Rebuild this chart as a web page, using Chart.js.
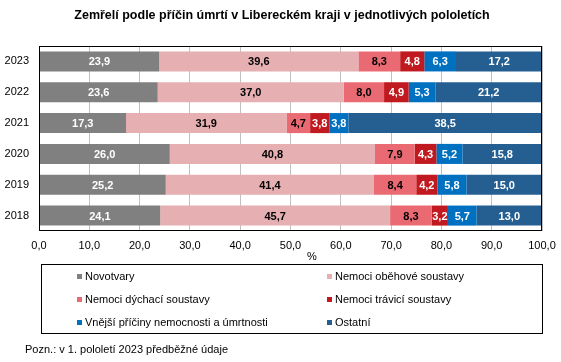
<!DOCTYPE html>
<html>
<head>
<meta charset="utf-8">
<script src="https://cdn.jsdelivr.net/npm/chart.js@4/dist/chart.umd.min.js"></script>
<style>
  html, body { margin: 0; padding: 0; background: #fff; }
  body { width: 561px; height: 362px; position: relative; overflow: hidden; font-family: "Liberation Sans", Arial, sans-serif; color: #000; }
  #wrap { position: absolute; left: 0; top: 0; width: 561px; height: 362px; }
  #title { position: absolute; top: 8px; left: 0; width: 564px; text-align: center; font-weight: bold; font-size: 12.5px; white-space: nowrap; }
  #pct { position: absolute; top: 250px; left: 306px; width: 12px; text-align: center; font-size: 11px; }
  #legend { position: absolute; left: 41px; top: 264px; width: 502px; height: 70px; border: 1px solid #000; box-sizing: border-box; }
  .li { position: absolute; font-size: 11px; white-space: nowrap; line-height: 13px; }
  .li span.m { position: absolute; left: -8px; top: 4px; width: 5px; height: 5px; }
  #note { position: absolute; left: 25px; top: 343px; font-size: 11px; white-space: nowrap; }
</style>
</head>
<body>
<div id="wrap"><canvas id="c" width="561" height="362"></canvas></div>
<div id="title">Zemřelí podle příčin úmrtí v Libereckém kraji v jednotlivých pololetích</div>
<div id="pct">%</div>
<div id="legend"></div>
<div id="note">Pozn.: v 1. pololetí 2023 předběžné údaje</div>
<script>
const categories = ['2023', '2022', '2021', '2020', '2019', '2018'];
const seriesNames = ['Novotvary', 'Nemoci oběhové soustavy', 'Nemoci dýchací soustavy', 'Nemoci trávicí soustavy', 'Vnější příčiny nemocnosti a úmrtnosti', 'Ostatní'];
const novotvary = [23.9, 23.6, 17.3, 26.0, 25.2, 24.1];
const obehove   = [39.6, 37.0, 31.9, 40.8, 41.4, 45.7];
const dychaci   = [8.3, 8.0, 4.7, 7.9, 8.4, 8.3];
const travici   = [4.8, 4.9, 3.8, 4.3, 4.2, 3.2];
const vnejsi    = [6.3, 5.3, 3.8, 5.2, 5.8, 5.7];
const ostatni   = [17.2, 21.2, 38.5, 15.8, 15.0, 13.0];
const xTicks = [0, 10, 20, 30, 40, 50, 60, 70, 80, 90, 100];

const colors = ['#808080', '#E6AFB2', '#E96A72', '#C0191F', '#0070C0', '#255F91'];
const labelColors = ['#fff', '#000', '#000', '#fff', '#fff', '#fff'];
const seriesValues = [novotvary, obehove, dychaci, travici, vnejsi, ostatni];

const fmt = v => v.toFixed(1).replace('.', ',');

const labelPlugin = {
  id: 'barLabels',
  afterDatasetsDraw(chart) {
    const ctx = chart.ctx;
    ctx.save();
    ctx.font = 'bold 11px "Liberation Sans", Arial, sans-serif';
    ctx.textAlign = 'center';
    ctx.textBaseline = 'middle';
    chart.data.datasets.forEach((ds, i) => {
      const meta = chart.getDatasetMeta(i);
      meta.data.forEach((el, j) => {
        const cx = (el.x + el.base) / 2;
        ctx.fillStyle = labelColors[i];
        ctx.fillText(fmt(ds.data[j]), cx, el.y + 1);
      });
    });
    ctx.restore();
  },
  afterDraw(chart) {
    const a = chart.chartArea;
    const ctx = chart.ctx;
    ctx.save();
    ctx.strokeStyle = '#000';
    ctx.lineWidth = 1;
    ctx.strokeRect(Math.round(a.left) + 0.5, Math.round(a.top) + 0.5, Math.round(a.right - a.left) - 1, Math.round(a.bottom - a.top) - 1);
    ctx.restore();
  }
};

const bgPlugin = {
  id: 'bg',
  beforeDraw(chart) {
    const ctx = chart.ctx;
    ctx.save();
    ctx.fillStyle = '#fff';
    ctx.fillRect(0, 0, chart.width, chart.height);
    ctx.restore();
  }
};

new Chart(document.getElementById('c'), {
  type: 'bar',
  data: {
    labels: categories,
    datasets: seriesNames.map((n, i) => ({
      label: n,
      data: seriesValues[i],
      backgroundColor: colors[i],
      borderWidth: 0,
      categoryPercentage: 0.65,
      barPercentage: 1
    }))
  },
  options: {
    indexAxis: 'y',
    responsive: false,
    animation: false,
    devicePixelRatio: 1,
    layout: { padding: { left: 0, right: 19, top: 46, bottom: 101 } },
    plugins: { legend: { display: false }, title: { display: false }, tooltip: { enabled: false } },
    scales: {
      x: {
        stacked: true,
        min: 0, max: 100,
        afterBuildTicks: s => { s.ticks = xTicks.map(v => ({ value: v })); },
        afterFit: s => { s.height = 30; s.paddingRight = 0; s.paddingLeft = 0; },
        grid: { color: '#C0C0C0', drawTicks: false, lineWidth: 1 },
        border: { display: false },
        ticks: { color: '#000', padding: 8, font: { size: 11, family: '"Liberation Sans", Arial, sans-serif' }, callback: v => fmt(v), maxRotation: 0, autoSkip: false }
      },
      y: {
        stacked: true,
        afterFit: s => { s.width = 39; },
        grid: { display: false, drawTicks: false },
        border: { display: false },
        ticks: { color: '#000', padding: 10, font: { size: 11, family: '"Liberation Sans", Arial, sans-serif' } }
      }
    }
  },
  plugins: [bgPlugin, labelPlugin]
});

// legend (HTML, two columns)
const legend = document.getElementById('legend');
const colX = [43, 293];
const rowY = [5, 28, 51];
seriesNames.forEach((n, i) => {
  const d = document.createElement('div');
  d.className = 'li';
  d.style.left = colX[i % 2] + 'px';
  d.style.top = rowY[Math.floor(i / 2)] + 'px';
  const m = document.createElement('span');
  m.className = 'm';
  m.style.background = colors[i];
  d.appendChild(m);
  d.appendChild(document.createTextNode(n));
  legend.appendChild(d);
});
</script>
</body>
</html>
